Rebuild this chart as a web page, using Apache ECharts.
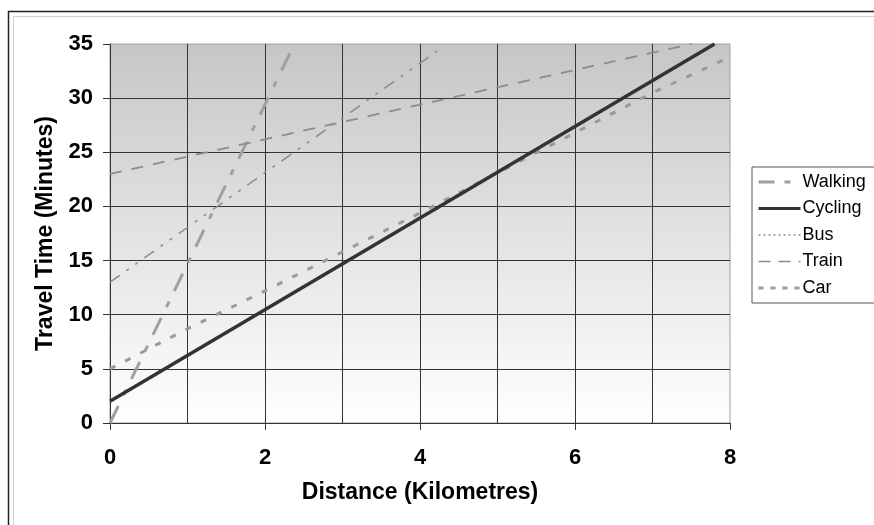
<!DOCTYPE html>
<html>
<head>
<meta charset="utf-8">
<script src="https://cdn.jsdelivr.net/npm/echarts@6/dist/echarts.min.js"></script>
<style>
html,body{margin:0;padding:0;background:#fff;}
#chart{width:874px;height:525px;}
</style>
</head>
<body>
<div id="chart"></div>
<script>
// ---- data ----
const seriesNames = ['Walking', 'Cycling', 'Bus', 'Train', 'Car'];
const walkingX = [0, 2.38];
const walkingY = [0, 35];
const cyclingX = [0, 7.8];
const cyclingY = [2, 35];
const busX = [0, 4.25];
const busY = [13, 34.5];
const trainX = [0, 7.5];
const trainY = [23, 35];
const carX = [0, 1, 2, 3, 4, 5, 6, 7, 8];
const carY = [5, 8.7, 12.2, 15.8, 19.4, 23.1, 26.8, 30.5, 33.8];
const xTicks = [0, 2, 4, 6, 8];
const yTicks = [0, 5, 10, 15, 20, 25, 30, 35];

function pairs(xs, ys) { return xs.map((x, i) => [x, ys[i]]); }

const FONT = "'Liberation Sans', Arial, sans-serif";
const chart = echarts.init(document.getElementById('chart'));

const styles = {
  Walking: { color: '#a0a0a0', width: 3, type: [19, 12, 6, 12] },
  Cycling: { color: '#333333', width: 3.5, type: 'solid' },
  Bus:     { color: '#8a8a8a', width: 1.5, type: [12, 8, 3, 8, 3, 8] },
  Train:   { color: '#8c8c8c', width: 1.8, type: [12, 10] },
  Car:     { color: '#9a9a9a', width: 3, type: [6, 11] }
};
const legendDash = {
  Walking: [16, 10, 6, 10],
  Cycling: 'solid',
  Bus: [2, 3],
  Train: [12, 8],
  Car: [5, 7]
};
const dataMap = {
  Walking: pairs(walkingX, walkingY),
  Cycling: pairs(cyclingX, cyclingY),
  Bus: pairs(busX, busY),
  Train: pairs(trainX, trainY),
  Car: pairs(carX, carY)
};

chart.setOption({
  animation: false,
  backgroundColor: '#ffffff',
  graphic: [
    { type: 'rect', shape: { x: 8.5, y: 11.5, width: 900, height: 600 }, style: { fill: 'none', stroke: '#222', lineWidth: 1.5 }, silent: true },
    { type: 'rect', shape: { x: 13.5, y: 16.5, width: 900, height: 600 }, style: { fill: 'none', stroke: '#d0d0d0', lineWidth: 1 }, silent: true }
  ],
  grid: {
    left: 110, right: 144, top: 44, bottom: 102,
    show: true,
    borderColor: '#a0a0a0',
    borderWidth: 1,
    backgroundColor: {
      type: 'linear', x: 0, y: 0, x2: 0, y2: 1,
      colorStops: [{ offset: 0, color: '#c6c6c6' }, { offset: 1, color: '#ffffff' }]
    }
  },
  legend: {
    orient: 'vertical',
    left: 752, top: 167,
    padding: [6, 20, 6, 5],
    itemGap: 8.5,
    itemWidth: 42,
    itemHeight: 14,
    backgroundColor: '#ffffff',
    borderColor: '#555',
    borderWidth: 1,
    borderRadius: 0,
    textStyle: { fontFamily: FONT, fontSize: 18, color: '#000', lineHeight: 18, padding: [0, 0, 0, -3] },
    data: seriesNames.map(n => ({
      name: n,
      itemStyle: { opacity: 0 },
      lineStyle: { color: styles[n].color, width: n === 'Bus' || n === 'Train' ? 1.5 : 3, type: legendDash[n] }
    }))
  },
  xAxis: {
    type: 'value', min: 0, max: 8, interval: 2,
    name: 'Distance (Kilometres)',
    nameLocation: 'middle', nameGap: 58,
    nameTextStyle: { fontFamily: FONT, fontSize: 23, fontWeight: 'bold', color: '#000' },
    axisLine: { show: true, lineStyle: { color: '#333', width: 1 } },
    axisTick: { show: true, length: 7, lineStyle: { color: '#333' } },
    axisLabel: { fontFamily: FONT, fontSize: 22, fontWeight: 'bold', color: '#000', margin: 24 },
    splitLine: { show: true, showMinLine: false, showMaxLine: false, lineStyle: { color: '#333', width: 1 } },
    minorTick: { show: false, splitNumber: 2 },
    minorSplitLine: { show: true, lineStyle: { color: '#333', width: 1 } }
  },
  yAxis: {
    type: 'value', min: 0, max: 35, interval: 5,
    name: 'Travel Time (Minutes)',
    nameLocation: 'middle', nameGap: 52,
    nameTextStyle: { fontFamily: FONT, fontSize: 23, fontWeight: 'bold', color: '#000' },
    axisLine: { show: true, lineStyle: { color: '#333', width: 1 } },
    axisTick: { show: true, length: 7, lineStyle: { color: '#333' } },
    axisLabel: { fontFamily: FONT, fontSize: 22, fontWeight: 'bold', color: '#000', margin: 17 },
    splitLine: { show: true, showMinLine: false, showMaxLine: false, lineStyle: { color: '#333', width: 1 } }
  },
  series: seriesNames.map(n => ({
    name: n,
    type: 'line',
    data: dataMap[n],
    symbol: 'none',
    clip: true,
    lineStyle: { color: styles[n].color, width: styles[n].width, type: styles[n].type },
    itemStyle: { color: styles[n].color },
    z: n === 'Cycling' ? 4 : 3
  }))
});
</script>
</body>
</html>
